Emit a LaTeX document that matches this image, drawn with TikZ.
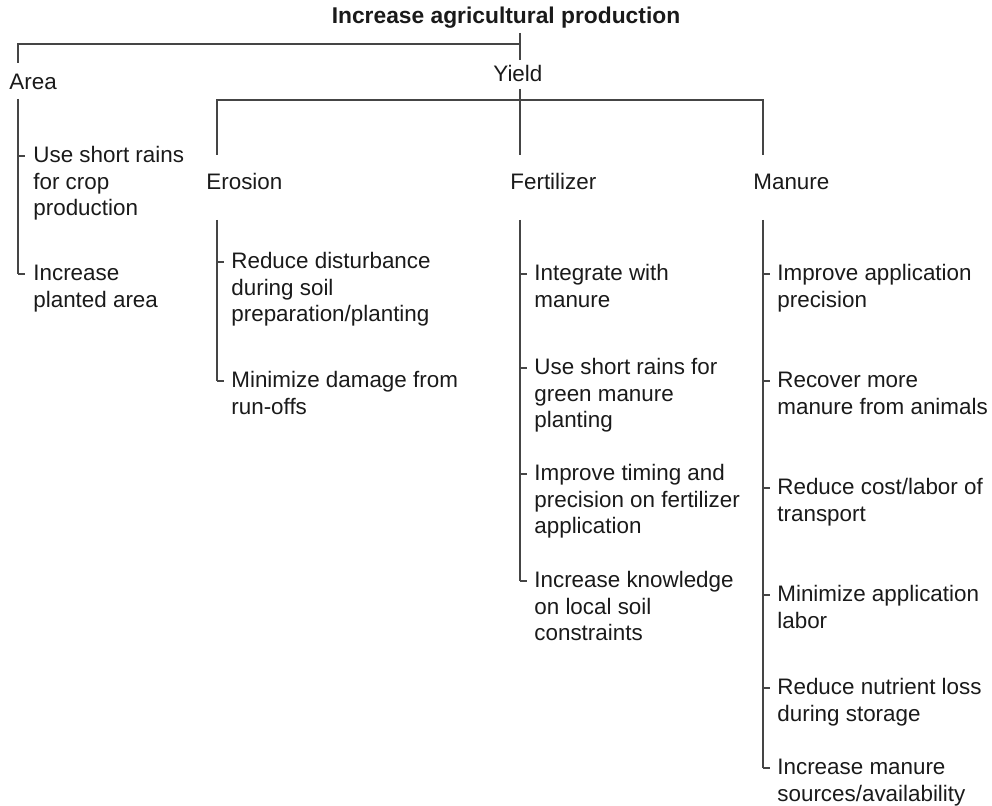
\documentclass[tikz,border=0pt]{standalone}
\usepackage{fontspec}
\setmainfont{Liberation Sans}
\definecolor{treeline}{HTML}{454545}
\definecolor{treetext}{HTML}{1A1A1A}

\begin{document}
\begin{tikzpicture}[
  x=0.5pt, y=-0.5pt,
  goal/.style={anchor=base, inner sep=0pt, text=treetext, font=\fontsize{11.4}{13.4}\selectfont\bfseries},
  head/.style={anchor=base west, inner sep=0pt, text=treetext, font=\fontsize{11.2}{13.35}\selectfont},
  item/.style={anchor=north west, inner sep=0pt, yshift=9.345pt, align=left, text=treetext, font=\fontsize{11.2}{13.35}\selectfont},
  branch/.style={draw=treeline, line width=0.75pt},
  tick/.style={draw=treeline, line width=0.75pt}
]
  % page frame, in pixels of a 992 x 806 canvas
  \useasboundingbox (0,0) rectangle (992,806);

  % top level
  \node[goal] (goal)  at (506,24) {Increase agricultural production};
  \node[head] (area)  at (9,90)   {Area};
  \node[head] (yield) at (493,82) {Yield};

  \coordinate (rootDrop) at (520,33);
  \coordinate (rootJoin) at (520,44);
  \coordinate (rootEnd)  at (520,60);
  \coordinate (areaTop)  at (18,63);
  \draw[branch] (rootDrop) -- (rootEnd);
  \draw[branch] (areaTop) |- (rootJoin);

  % yield splits in three
  \node[head] (erosion) at (206,190) {Erosion};
  \node[head] (fert)    at (510,190) {Fertilizer};
  \node[head] (manure)  at (753,190) {Manure};

  \coordinate (yieldDrop) at (520,89);
  \coordinate (yieldJoin) at (520,100);
  \coordinate (erosTop)   at (217,155);
  \coordinate (fertTop)   at (520,155);
  \coordinate (manTop)    at (763,155);
  \draw[branch] (yieldDrop) -- (fertTop);
  \draw[branch] (erosTop) |- (yieldJoin) -| (manTop);

  % area measures
  \coordinate (areaList) at (18,99);
  \node[item] (a1) at (33,162) {\strut Use short rains\\for crop\\production};
  \node[item] (a2) at (33,280) {\strut Increase\\planted area};
  \draw[branch] (areaList) -- ([yshift=-6.35pt]areaList |- a2.north);
  \foreach \n in {a1,a2}
    \draw[tick] ([yshift=-6.35pt]areaList |- \n.north) -- ++(7,0);

  % erosion measures
  \coordinate (erosList) at (217,220);
  \node[item] (e1) at (231,268) {\strut Reduce disturbance\\during soil\\preparation/planting};
  \node[item] (e2) at (231,387) {\strut Minimize damage from\\run-offs};
  \draw[branch] (erosList) -- ([yshift=-6.35pt]erosList |- e2.north);
  \foreach \n in {e1,e2}
    \draw[tick] ([yshift=-6.35pt]erosList |- \n.north) -- ++(7,0);

  % fertilizer measures
  \coordinate (fertList) at (520,220);
  \node[item] (f1) at (534,280) {\strut Integrate with\\manure};
  \node[item] (f2) at (534,374) {\strut Use short rains for\\green manure\\planting};
  \node[item] (f3) at (534,480) {\strut Improve timing and\\precision on fertilizer\\application};
  \node[item] (f4) at (534,587) {\strut Increase knowledge\\on local soil\\constraints};
  \draw[branch] (fertList) -- ([yshift=-6.35pt]fertList |- f4.north);
  \foreach \n in {f1,f2,f3,f4}
    \draw[tick] ([yshift=-6.35pt]fertList |- \n.north) -- ++(7,0);

  % manure measures
  \coordinate (manList) at (763,220);
  \node[item] (m1) at (777,280) {\strut Improve application\\precision};
  \node[item] (m2) at (777,387) {\strut Recover more\\manure from animals};
  \node[item] (m3) at (777,494) {\strut Reduce cost/labor of\\transport};
  \node[item] (m4) at (777,601) {\strut Minimize application\\labor};
  \node[item] (m5) at (777,694) {\strut Reduce nutrient loss\\during storage};
  \node[item] (m6) at (777,774) {\strut Increase manure\\sources/availability};
  \draw[branch] (manList) -- ([yshift=-6.35pt]manList |- m6.north);
  \foreach \n in {m1,m2,m3,m4,m5,m6}
    \draw[tick] ([yshift=-6.35pt]manList |- \n.north) -- ++(7,0);
\end{tikzpicture}
\end{document}
